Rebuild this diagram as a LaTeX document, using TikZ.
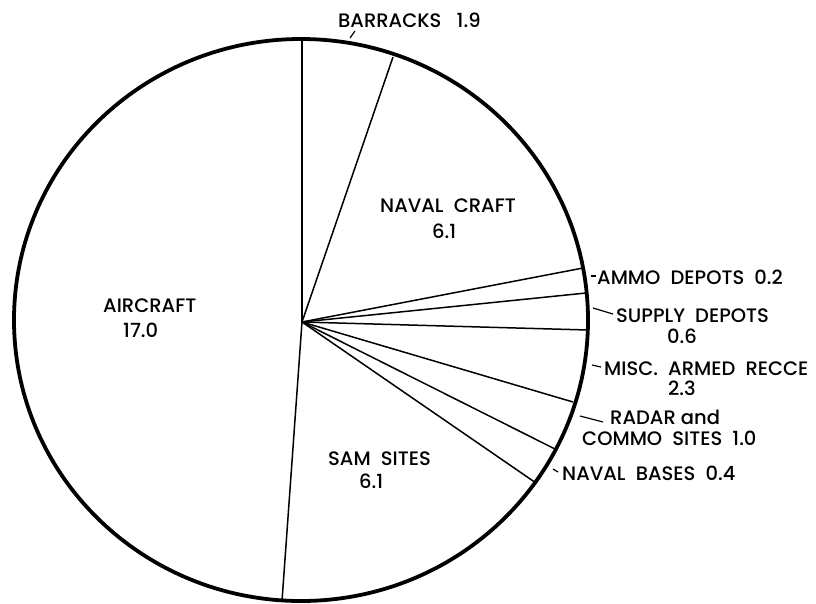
\documentclass[tikz,border=0pt]{standalone}
\usepackage{fontspec}
\setmainfont{Poppins}[UprightFont={* Medium}]
\begin{document}
\begin{tikzpicture}[x=1pt,y=-1pt,
  rim/.style={line width=3.8pt},
  slice/.style={line width=1.5pt},
  leader/.style={line width=1.2pt},
  lbl/.style={inner sep=0pt,anchor=base west,font=\fontsize{19.5}{22}\selectfont}]
\useasboundingbox (0,0) rectangle (816,603);
% centre and rim points
\coordinate (c) at (302,322);
\coordinate (p0) at (302,39);
\coordinate (p1) at (393,57);
\coordinate (p2) at (583,268);
\coordinate (p3) at (586,293);
\coordinate (p4) at (588,330);
\coordinate (p5) at (573,402);
\coordinate (p6) at (555,449);
\coordinate (p7) at (536,483);
\coordinate (p8) at (282,601);
\foreach \p in {p0,p1,p2,p3,p4,p5,p6,p7,p8} \draw[slice] (c) -- (\p);
\draw[rim] (301,320) ellipse [x radius=287, y radius=281];
% labels
\node[lbl] (barr) at (338,27) {BARRACKS\ \ \ 1.9};
\node[lbl] (nc1) at (380,212) {NAVAL\ \ CRAFT};
\node[lbl] (nc2) at (432,238) {6.1};
\node[lbl] (ac1) at (103,312) {AIRCRAFT};
\node[lbl] (ac2) at (123,337) {17.0};
\node[lbl] (sam1) at (328,465) {SAM\ \ SITES};
\node[lbl] (sam2) at (359,488) {6.1};
\node[lbl] (ammo) at (597,284) {AMMO\ \ DEPOTS\ \ 0.2};
\node[lbl] (sup1) at (616,322) {SUPPLY\ \ DEPOTS};
\node[lbl] (sup2) at (667,343) {0.6};
\node[lbl] (misc1) at (604,375) {MISC.\ \ ARMED\ \ RECCE};
\node[lbl] (misc2) at (668,395) {2.3};
\node[lbl] (rad1) at (610,424) {RADAR and};
\node[lbl] (rad2) at (582,445) {COMMO\ \ SITES\ \ 1.0};
\node[lbl] (nb) at (562,480) {NAVAL\ \ BASES\ \ 0.4};
% leaders
\coordinate (lb) at (350,38);
\coordinate (la) at (591,276);
\coordinate (ls) at (593,308);
\coordinate (lm) at (592,365);
\coordinate (lr) at (580,416);
\coordinate (ln) at (553,469);
\draw[leader] (lb) -- (355,31);
\draw[leader] (la) -- (596,276);
\draw[leader] (ls) -- (613,314);
\draw[leader] (lm) -- (601,367);
\draw[leader] (lr) -- (603,422);
\draw[leader] (ln) -- (558,472);
\end{tikzpicture}
\end{document}
